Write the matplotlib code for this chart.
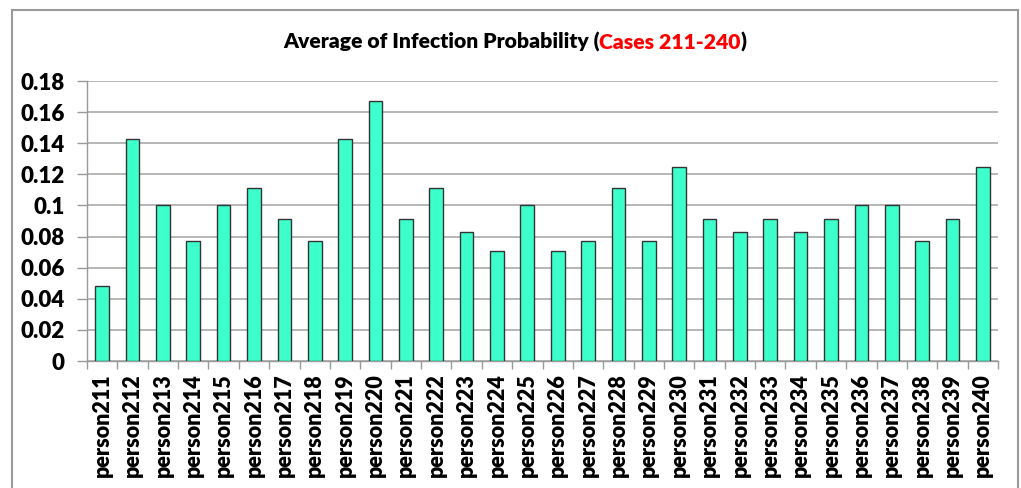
import numpy as np
import matplotlib.pyplot as plt
from matplotlib.patches import Rectangle

# Datos
personas = ['person%d' % i for i in range(211, 241)]
probabilidad = [0.048, 0.143, 0.100, 0.077, 0.100, 0.111, 0.091, 0.077, 0.143, 0.167,
                0.091, 0.111, 0.083, 0.071, 0.100, 0.071, 0.077, 0.111, 0.077, 0.125,
                0.091, 0.083, 0.091, 0.083, 0.091, 0.100, 0.100, 0.077, 0.091, 0.125]
y_ticks = [0, 0.02, 0.04, 0.06, 0.08, 0.1, 0.12, 0.14, 0.16, 0.18]
y_labels = ['0', '0.02', '0.04', '0.06', '0.08', '0.1', '0.12', '0.14', '0.16', '0.18']

plt.rcParams['font.family'] = ['Lato', 'DejaVu Sans']

fig = plt.figure(figsize=(10.21, 4.88), dpi=100)
ax = fig.add_axes([0.0852, 0.2602, 0.8923, 0.5738])

# Marco exterior
fig.patches.append(Rectangle((12 / 1021, -0.1), 1006 / 1021, 1.1 - 10 / 488,
                             transform=fig.transFigure, fill=False,
                             edgecolor='#999999', linewidth=1.5))

x = np.arange(len(personas))
ax.bar(x, probabilidad, width=0.45, color='#3DFFCB', edgecolor='#333333', linewidth=1, zorder=3)

ax.set_xlim(-0.5, len(personas) - 0.5)
ax.set_ylim(0, 0.18)
ax.set_yticks(y_ticks)
ax.set_yticklabels(y_labels, fontsize=16, fontweight='heavy')
ax.set_xticks(x)
ax.set_xticklabels(personas, rotation=90, fontsize=15.5, fontweight='heavy')
ax.tick_params(axis='x', length=0, pad=9)
ax.set_xticks(np.arange(-0.5, len(personas), 1), minor=True)
ax.tick_params(axis='x', which='minor', length=6, color='#999999', width=1)
ax.tick_params(axis='y', length=7, color='#999999', width=1, pad=9)

ax.grid(axis='y', color='#AAAAAA', linewidth=1.2, zorder=0)
for s in ['top', 'right']:
    ax.spines[s].set_visible(False)
for s in ['left', 'bottom']:
    ax.spines[s].set_color('#999999')
    ax.spines[s].set_linewidth(1)

# Título con dos colores
t1 = fig.text(0.277, 0.9, 'Average of Infection Probability (', fontsize=15.2,
              fontweight='heavy', ha='left', va='baseline')
t2 = fig.text(0, 0, 'Cases 211-240', fontsize=15.2, fontweight='heavy', color='red')
t3 = fig.text(0, 0, ')', fontsize=15.2, fontweight='heavy')
fig.canvas.draw()
r = fig.canvas.get_renderer()
bb1 = t1.get_window_extent(r).transformed(fig.transFigure.inverted())
t2.set_position((bb1.x1, 0.9))
bb2 = t2.get_window_extent(r).transformed(fig.transFigure.inverted())
t3.set_position((bb2.x1, 0.9))

fig.savefig('out.png', dpi=100)
